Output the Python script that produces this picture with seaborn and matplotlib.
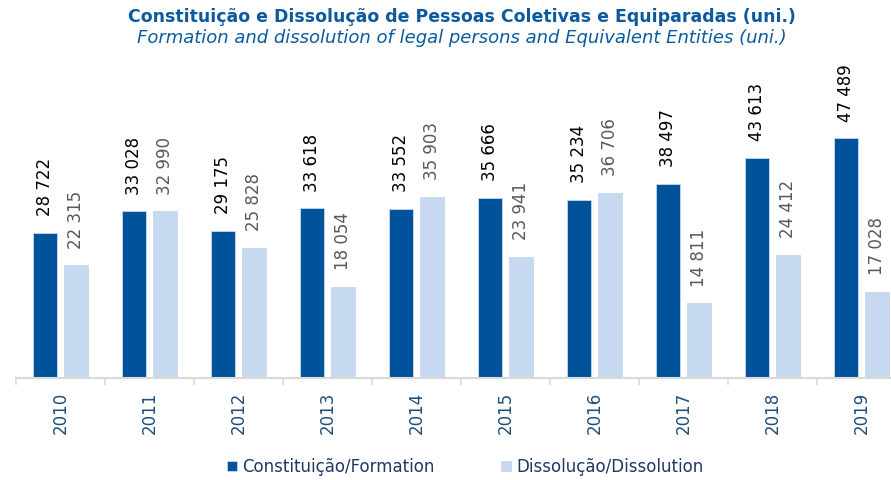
import matplotlib
matplotlib.use('Agg')
import matplotlib.pyplot as plt
import seaborn as sns
import pandas as pd

anos = ['2010', '2011', '2012', '2013', '2014', '2015', '2016', '2017', '2018', '2019']
constituicao = [28722, 33028, 29175, 33618, 33552, 35666, 35234, 38497, 43613, 47489]
dissolucao = [22315, 32990, 25828, 18054, 35903, 23941, 36706, 14811, 24412, 17028]
series = ['Constituição/Formation', 'Dissolução/Dissolution']
cores = ['#00539b', '#c6d9f0']

df = pd.DataFrame({
    'ano': anos * 2,
    'valor': constituicao + dissolucao,
    'serie': [series[0]] * len(anos) + [series[1]] * len(anos),
})

sns.set_style('white')
plt.rcParams['font.family'] = ['DejaVu Sans']

fig = plt.figure(figsize=(8.91, 4.8), dpi=100)
ax = fig.add_axes([16 / 891, 0.2125, 890 / 891, 0.631])

sns.barplot(data=df, x='ano', y='valor', hue='serie', palette=cores, saturation=1,
            width=0.68, gap=0.2, ax=ax, edgecolor='#c6d9f0', linewidth=0.6)

# rotulos dos valores por cima das barras
cores_txt = ['black', '#595959']
for cont, cor in zip(ax.containers, cores_txt):
    for barra in cont:
        v = barra.get_height()
        txt = f'{int(v):,}'.replace(',', ' ')
        ax.annotate(txt, (barra.get_x() + barra.get_width() / 2, v),
                    xytext=(0, 12), textcoords='offset points',
                    rotation=90, ha='center', va='bottom', fontsize=12, color=cor)

ax.set_ylim(0, 60000)
ax.set_xlim(-0.5, 9.5)
ax.set_yticks([])
ax.set_xlabel('')
ax.set_ylabel('')
for s in ['top', 'right', 'left']:
    ax.spines[s].set_visible(False)
ax.spines['bottom'].set_color('#d9d9d9')
ax.spines['bottom'].set_linewidth(1.5)

ax.set_xticks(range(len(anos)))
ax.set_xticklabels(anos, rotation=90, fontsize=12, color='#1f4e79')
ax.tick_params(axis='x', which='major', length=0, pad=10)
ax.set_xticks([i - 0.5 for i in range(len(anos) + 1)], minor=True)
ax.tick_params(axis='x', which='minor', length=5, color='#d9d9d9', width=1.2, bottom=True)

leg = ax.legend(loc='center', bbox_to_anchor=(465 / 891, 13 / 480),
                bbox_transform=fig.transFigure, ncol=2, frameon=False,
                fontsize=12, handlelength=0.6, handleheight=0.6,
                handletextpad=0.3, columnspacing=4.0)
for t in leg.get_texts():
    t.set_color('#1f3864')

fig.text(462 / 891, 1 - 17 / 480,
         'Constituição e Dissolução de Pessoas Coletivas e Equiparadas (uni.)',
         ha='center', va='center', fontsize=12.5, fontweight='bold', color='#0b5aa0')
fig.text(462 / 891, 1 - 38 / 480,
         'Formation and dissolution of legal persons and Equivalent Entities (uni.)',
         ha='center', va='center', fontsize=13, style='italic', color='#0b5aa0')

fig.savefig('out.png', dpi=100)
